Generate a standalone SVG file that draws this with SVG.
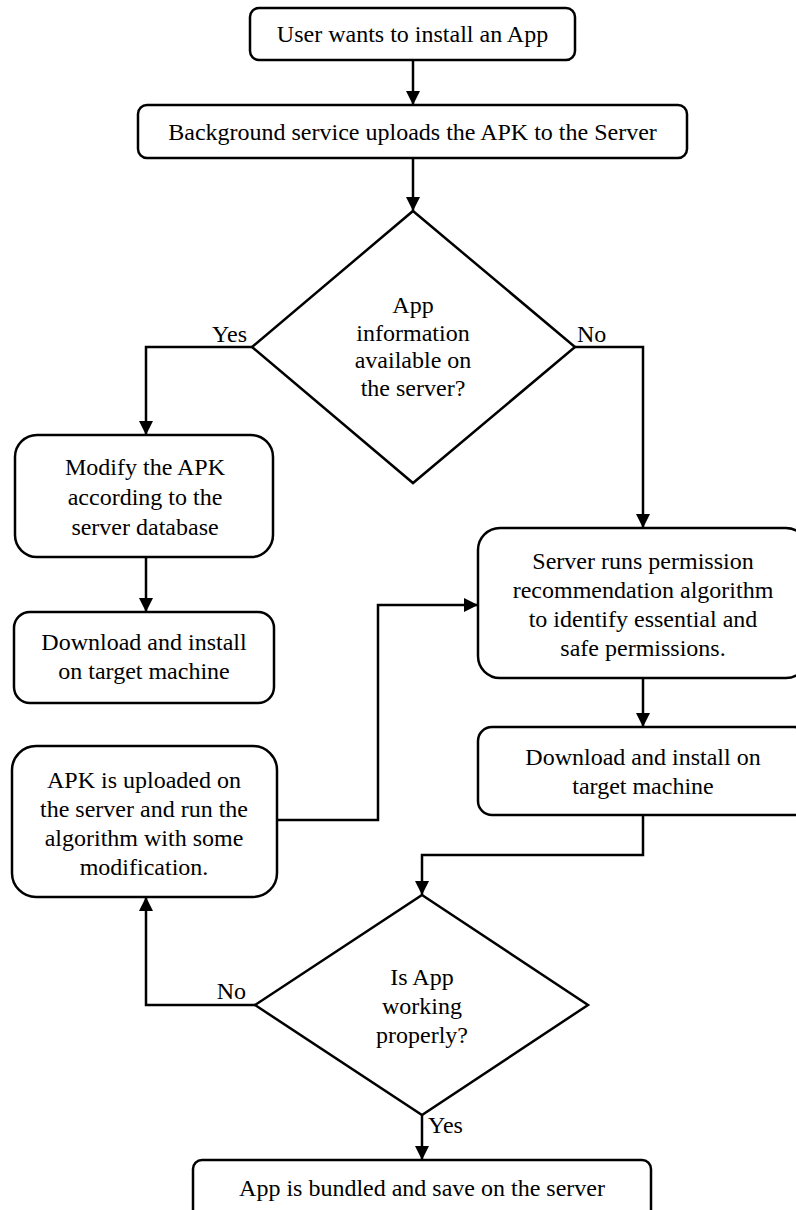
<svg xmlns="http://www.w3.org/2000/svg" width="796" height="1210" viewBox="0 0 796 1210">
<style>
.box{fill:#fff;stroke:#000;stroke-width:2.5}
.t{font-family:"Liberation Serif","Times New Roman",serif;font-size:24px;fill:#000;text-anchor:middle}
.lbl{font-family:"Liberation Serif","Times New Roman",serif;font-size:24px;fill:#000}
.c{fill:none;stroke:#000;stroke-width:2.5;marker-end:url(#ah)}
</style>
<defs>
<marker id="ah" markerUnits="userSpaceOnUse" markerWidth="14" markerHeight="14" refX="14" refY="7" orient="auto">
<path d="M0,0 L14,7 L0,14 z" fill="#000"/>
</marker>
</defs>
<rect width="796" height="1210" fill="#fff"/>
<g id="connectors">
<path class="c" d="M413,60 V105"/>
<path class="c" d="M413,158 V211"/>
<path class="c" d="M252,347 H146 V435"/>
<path class="c" d="M575,347 H643 V528"/>
<path class="c" d="M146,557 V612"/>
<path class="c" d="M643,678 V727"/>
<path class="c" d="M277,820 H378 V605 H478"/>
<path class="c" d="M643,815 V855 H422 V895"/>
<path class="c" d="M255,1005 H146 V897"/>
<path class="c" d="M422,1115 V1160"/>
<text class="lbl" x="247" y="342" text-anchor="end">Yes</text>
<text class="lbl" x="577" y="342">No</text>
<text class="lbl" x="246" y="999" text-anchor="end">No</text>
<text class="lbl" x="428" y="1133">Yes</text>
</g>
<g id="n1">
<rect class="box" x="250" y="8" width="325" height="52" rx="9"/>
<text class="t" x="412.5" y="42">User wants to install an App</text>
</g>
<g id="n2">
<rect class="box" x="138" y="105" width="549" height="53" rx="9"/>
<text class="t" x="412.5" y="140">Background service uploads the APK to the Server</text>
</g>
<g id="d1">
<polygon class="box" points="413,211 575,347 413,483 252,347"/>
<text class="t" x="413" y="313">App</text>
<text class="t" x="413" y="341">information</text>
<text class="t" x="413" y="368">available on</text>
<text class="t" x="413" y="396">the server?</text>
</g>
<g id="n3">
<rect class="box" x="15" y="435" width="258" height="122" rx="22"/>
<text class="t" x="145" y="475">Modify the APK</text>
<text class="t" x="145" y="505">according to the</text>
<text class="t" x="145" y="535">server database</text>
</g>
<g id="n4">
<rect class="box" x="14" y="612" width="260" height="91" rx="16"/>
<text class="t" x="144" y="650">Download and install</text>
<text class="t" x="144" y="679">on target machine</text>
</g>
<g id="n5">
<rect class="box" x="478" y="528" width="330" height="150" rx="22"/>
<text class="t" x="643" y="569">Server runs permission</text>
<text class="t" x="643" y="598">recommendation algorithm</text>
<text class="t" x="643" y="627">to identify essential and</text>
<text class="t" x="643" y="656">safe permissions.</text>
</g>
<g id="n6">
<rect class="box" x="478" y="727" width="330" height="88" rx="14"/>
<text class="t" x="643" y="765">Download and install on</text>
<text class="t" x="643" y="794">target machine</text>
</g>
<g id="n7">
<rect class="box" x="12" y="746" width="265" height="151" rx="24"/>
<text class="t" x="144" y="788">APK is uploaded on</text>
<text class="t" x="144" y="817">the server and run the</text>
<text class="t" x="144" y="846">algorithm with some</text>
<text class="t" x="144" y="875">modification.</text>
</g>
<g id="d2">
<polygon class="box" points="422,895 588,1005 422,1115 255,1005"/>
<text class="t" x="422" y="985">Is App</text>
<text class="t" x="422" y="1014">working</text>
<text class="t" x="422" y="1043">properly?</text>
</g>
<g id="n8">
<rect class="box" x="193" y="1160" width="458" height="60" rx="9"/>
<text class="t" x="422" y="1196">App is bundled and save on the server</text>
</g>
</svg>
